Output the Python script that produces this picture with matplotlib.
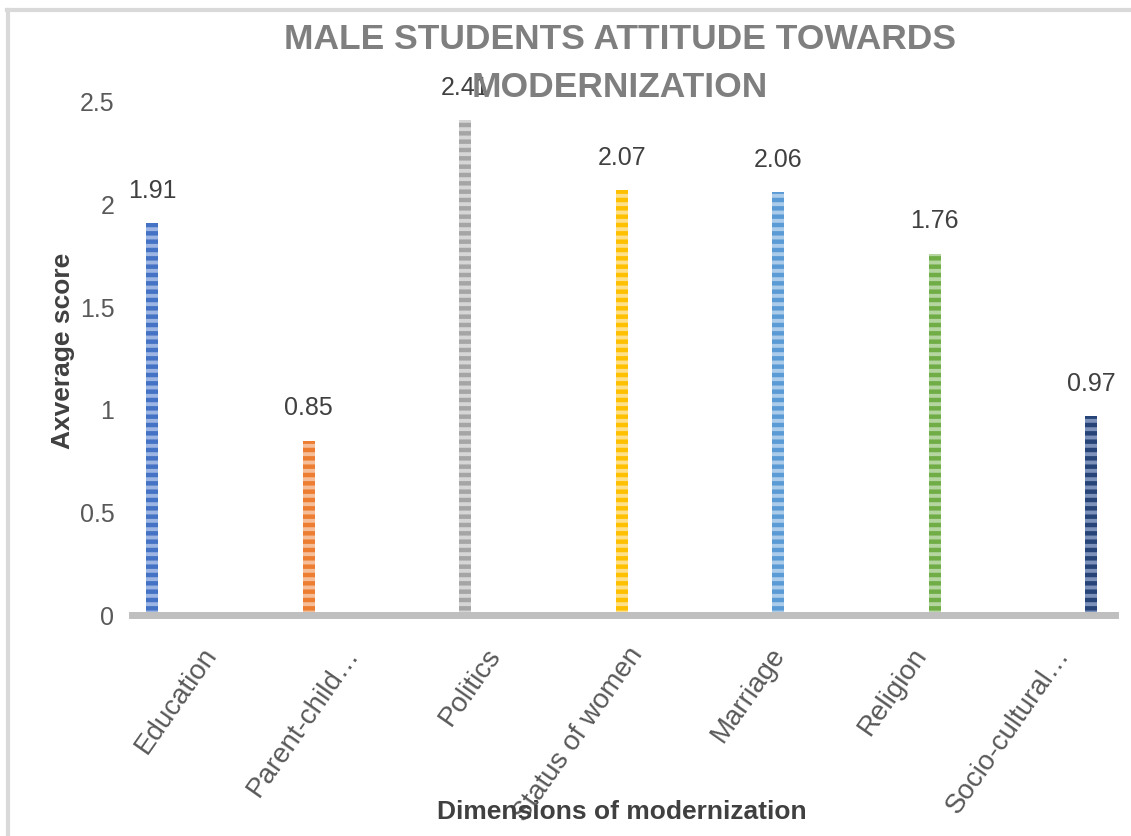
import numpy as np
import matplotlib
matplotlib.use("Agg")
import matplotlib.pyplot as plt
from matplotlib.lines import Line2D

categories = ["Education", "Parent-child\u2026", "Politics", "Status of women",
              "Marriage", "Religion", "Socio-cultural\u2026"]
scores = [1.91, 0.85, 2.41, 2.07, 2.06, 1.76, 0.97]
bar_colors = ["#4472C4", "#ED7D31", "#A5A5A5", "#FFC000", "#5B9BD5", "#70AD47", "#264478"]
stripe_colors = ["#9DB5E3", "#F6BE98", "#D6D6D6", "#FFE08A", "#ABCBEA", "#B5D6A1", "#7D92BA"]
yticks = [0, 0.5, 1, 1.5, 2, 2.5]
ytick_labels = ["0", "0.5", "1", "1.5", "2", "2.5"]

plt.rcParams["font.family"] = ["Liberation Sans", "DejaVu Sans"]
plt.rcParams["hatch.linewidth"] = 2.8

fig = plt.figure(figsize=(11.31, 8.36), dpi=100)
ax = fig.add_axes([0.117, 0.264, 0.869, 0.614])

x = np.arange(len(categories))
bars = ax.bar(x, scores, width=0.077, color=bar_colors, linewidth=0, zorder=2)
for b, sc in zip(bars, stripe_colors):
    b.set_hatch("--")
    b.set_edgecolor(sc)

for xi, v in zip(x, scores):
    ax.text(xi, v + 0.1, f"{v:.2f}", ha="center", va="bottom",
            fontsize=18, color="#404040", zorder=1)

ax.set_xlim(-0.128, 6.153)
ax.set_ylim(0, 2.5)
ax.set_yticks(yticks)
ax.set_yticklabels(ytick_labels, fontsize=18, color="#595959")
ax.tick_params(axis="y", length=0, pad=13)

# category labels sit on an even grid that is a bit narrower than the bar spacing
label_pos = 0.31 + x * 0.908
ax.set_xticks(label_pos)
ax.set_xticklabels(categories, rotation=55, ha="right", va="top",
                   rotation_mode="anchor", fontsize=20, color="#595959")
ax.tick_params(axis="x", length=0, pad=20)

for s in ["top", "right", "left"]:
    ax.spines[s].set_visible(False)
ax.spines["bottom"].set_color("#BFBFBF")
ax.spines["bottom"].set_linewidth(5)
ax.spines["bottom"].set_zorder(3)

fig.text(0.056, 0.58, "Axverage score", rotation=90, ha="center", va="center",
         fontsize=19, fontweight="bold", color="#404040")
fig.text(0.55, 0.029, "Dimensions of modernization", ha="center", va="center",
         fontsize=19, fontweight="bold", color="#404040")

fig.text(0.548, 0.953, "MALE STUDENTS ATTITUDE TOWARDS",
         ha="center", va="center", fontsize=25.5, fontweight="bold", color="#7F7F7F")
fig.text(0.548, 0.895, "MODERNIZATION",
         ha="center", va="center", fontsize=25.5, fontweight="bold", color="#7F7F7F")

fig.add_artist(Line2D([0.006, 1.0], [0.988, 0.988], color="#D9D9D9", lw=3))
fig.add_artist(Line2D([0.007, 0.007], [0.0, 0.988], color="#D9D9D9", lw=3))

fig.savefig("out.png", dpi=100, facecolor="white")
